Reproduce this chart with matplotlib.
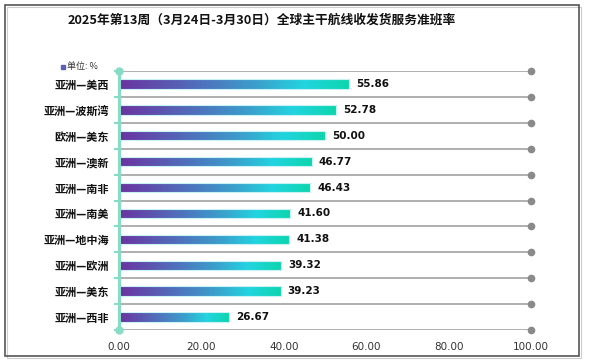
import numpy as np
import matplotlib
matplotlib.use('Agg')
from matplotlib import pyplot as plt
from matplotlib.colors import LinearSegmentedColormap
from matplotlib.patches import Rectangle

plt.rcParams['font.family'] = ['Noto Sans CJK SC', 'DejaVu Sans']

title = '2025年第13周（3月24日-3月30日）全球主干航线收发货服务准班率'
routes = ['亚洲—美西', '亚洲—波斯湾', '欧洲—美东', '亚洲—澳新', '亚洲—南非',
          '亚洲—南美', '亚洲—地中海', '亚洲—欧洲', '亚洲—美东', '亚洲—西非']
rates = [55.86, 52.78, 50.00, 46.77, 46.43, 41.60, 41.38, 39.32, 39.23, 26.67]
x_ticks = [0, 20, 40, 60, 80, 100]
unit_label = '单位: %'

W, H = 589, 364
fig = plt.figure(figsize=(W / 100, H / 100), dpi=100)
ax = fig.add_axes([119 / W, 1 - 330 / H, 412 / W, 259 / H])

cmap = LinearSegmentedColormap.from_list(
    'bar', [(0.0, '#6b33a0'), (0.35, '#4f70bc'), (0.6, '#3aa0cc'),
            (0.8, '#22d4e0'), (1.0, '#0cd6ac')])
grad = np.linspace(0, 1, 256).reshape(1, -1)

n = len(routes)
ypos = np.arange(n)
h = 0.36
bars = ax.barh(ypos, rates, height=h, color='none', edgecolor='#c8f2f4',
               linewidth=0.8, zorder=3)
for bar, y, v in zip(bars, ypos, rates):
    im = ax.imshow(grad, extent=[0, v, y + h / 2, y - h / 2], aspect='auto',
                   cmap=cmap, zorder=2)
    im.set_clip_path(bar)
    ax.text(v + 1.7, y, f'{v:.2f}', va='center', ha='left', fontsize=7.5,
            fontweight='bold', family='DejaVu Sans', color='#111111')

# row separators with end dots
bounds = np.arange(n + 1) - 0.5
for b in bounds:
    ax.plot([0, 100], [b, b], color='#9a9a9a', lw=1.1, zorder=1)
ax.plot([100] * len(bounds), bounds, 'o', color='#8a8a8a', ms=4.5,
        clip_on=False, zorder=4)

# teal left axis
teal = '#86dcc4'
ax.plot([0, 0], [bounds[0], bounds[-1]], color=teal, lw=2.2, clip_on=False, zorder=4)
for b in bounds:
    ax.plot([-0.9, 0], [b, b], color=teal, lw=1.5, clip_on=False, zorder=4)
ax.plot([0, 0], [bounds[0], bounds[-1]], 'o', color=teal, ms=5, clip_on=False, zorder=5)

ax.set_xlim(0, 100)
ax.set_ylim(n - 0.5, -0.5)
ax.set_xticks(x_ticks)
ax.set_xticklabels([f'{t:.2f}' for t in x_ticks], family='DejaVu Sans',
                   fontsize=7.5, color='#333333')
ax.set_yticks(ypos)
ax.set_yticklabels(routes, fontsize=8, fontweight='bold', color='#111111')
ax.tick_params(axis='both', length=0)
ax.tick_params(axis='x', pad=9)
ax.tick_params(axis='y', pad=7)
for s in ax.spines.values():
    s.set_visible(False)

fig.text(0.444, 1 - 20 / H, title, ha='center', va='center', fontsize=9.2,
         fontweight='bold', color='#111111')

# legend
fig.patches.append(Rectangle((61 / W, 1 - 69 / H), 4 / W, 4 / H,
                             transform=fig.transFigure, color='#5a60b8'))
fig.text(67 / W, 1 - 67 / H, unit_label, ha='left', va='center', fontsize=6.5,
         color='#333333')

# outer frame
fig.patches.append(Rectangle((5 / W, 1 - 356 / H), 574 / W, 351 / H,
                             transform=fig.transFigure, fill=False,
                             edgecolor='#555555', lw=1.2))
fig.patches.append(Rectangle((7 / W, 1 - 358 / H), 574 / W, 351 / H,
                             transform=fig.transFigure, fill=False,
                             edgecolor='#cccccc', lw=0.8, zorder=-1))

fig.savefig('out.png', dpi=100)
